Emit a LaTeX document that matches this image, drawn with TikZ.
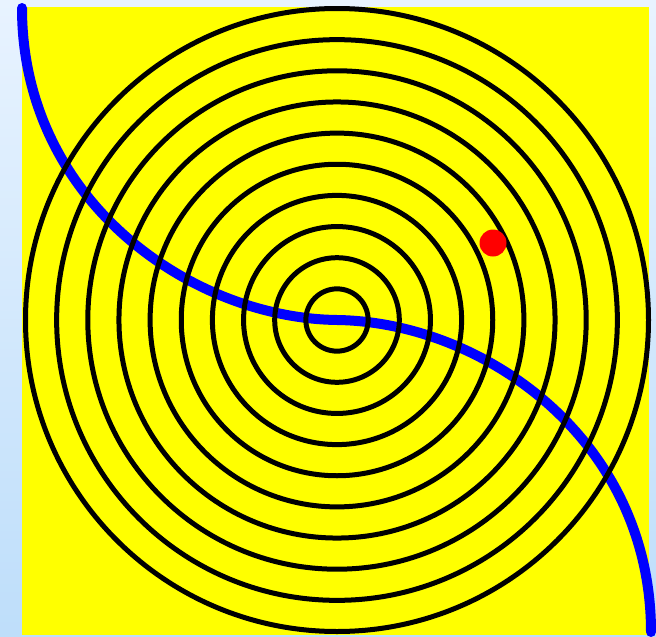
\documentclass[tikz,border=0pt]{standalone}
\begin{document}
\begin{tikzpicture}[x=1pt,y=-1pt,
  ring/.style={draw=black,line width=5pt},
  wave/.style={draw={rgb,255:red,0;green,0;blue,255},line width=10pt,line cap=round},
  dot/.style={fill={rgb,255:red,255;green,0;blue,0}}]
\definecolor{bgtop}{RGB}{232,243,255}
\definecolor{bgbot}{RGB}{190,222,250}
\definecolor{pureyellow}{RGB}{255,255,0}
\useasboundingbox (0,0) rectangle (656,637);
\shade[top color=bgtop,bottom color=bgbot] (0,0) rectangle (656,637);
\fill[pureyellow] (22,7) rectangle (649,635);
\coordinate (c) at (337,320);
\coordinate (s) at (22,8);
\coordinate (e) at (651,632);
\draw[wave] (s) .. controls (22,200) and (190,318) .. (c)
  .. controls (484,322) and (651,440) .. (e);
\foreach \k in {1,...,10}{
  \draw[ring] (c) circle ({31.15*\k});
}
\fill[dot] (493,243) circle (13.5);
\end{tikzpicture}
\end{document}
